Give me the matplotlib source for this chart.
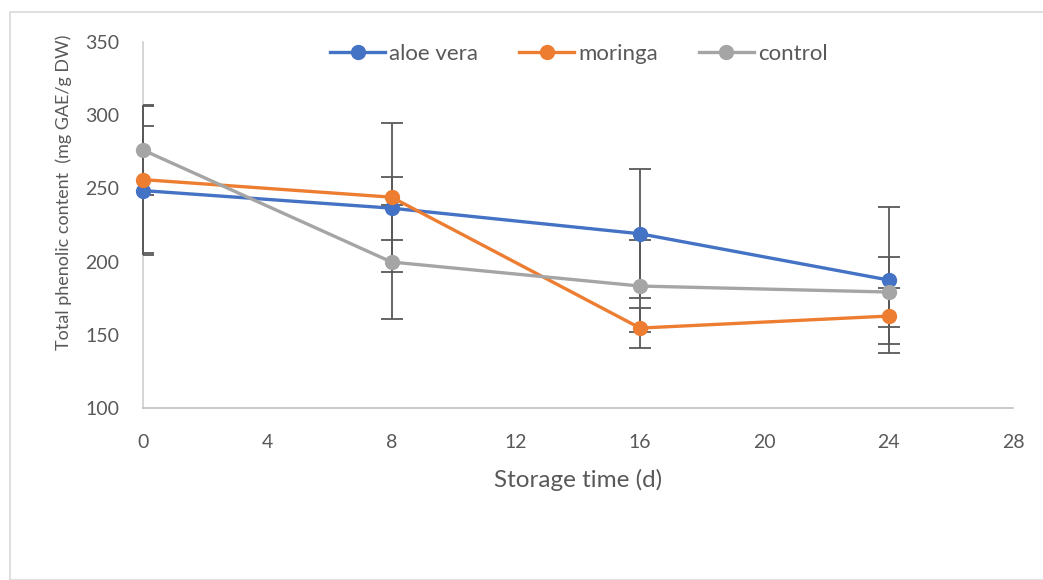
import matplotlib
matplotlib.use("Agg")
import matplotlib.pyplot as plt
from matplotlib.patches import Rectangle

# Storage days and total phenolic content per coating treatment
days = [0, 8, 16, 24]
aloe_vera = [248.5, 236.5, 219.0, 187.4]
moringa = [256.0, 244.0, 154.6, 162.8]
control = [276.2, 199.7, 183.3, 179.2]

# Symmetric error bar half-widths
aloe_vera_err = [44.0, 21.5, 44.0, 49.7]
moringa_err = [50.0, 51.0, 13.5, 19.3]
control_err = [31.0, 39.0, 31.5, 23.7]

x_ticks = [0, 4, 8, 12, 16, 20, 24, 28]
y_ticks = [100, 150, 200, 250, 300, 350]

series = [
    ("aloe vera", aloe_vera, aloe_vera_err, "#4472C4"),
    ("moringa", moringa, moringa_err, "#ED7D31"),
    ("control", control, control_err, "#A5A5A5"),
]

plt.rcParams["font.family"] = ["Lato", "DejaVu Sans"]
text_color = "#595959"

W, H = 1043, 580
fig = plt.figure(figsize=(W / 100, H / 100), dpi=100)

# Outer chart frame
fig.patches.append(Rectangle((9.5 / W, 0), 1.2, 1 - 11.5 / H, transform=fig.transFigure,
                             fill=False, edgecolor="#d9d9d9", linewidth=1.2))

ax = fig.add_axes([143 / W, 1 - 408 / H, (1013 - 143) / W, (408 - 42) / H])

for name, vals, err, col in series:
    eb = ax.errorbar(days, vals, yerr=err, fmt="none", ecolor="#595959", elinewidth=1.3,
                     capsize=8, capthick=1.3, zorder=2.6)
    # keep the vertical bars whole at the axis edge; caps stay clipped
    for coll in eb[2]:
        coll.set_clip_on(False)

for name, vals, err, col in series:
    ax.plot(days, vals, color=col, linewidth=2.4, marker="o", markersize=10,
            label=name, zorder=3, clip_on=False)

ax.set_xlim(0, 28)
ax.set_ylim(100, 350)
ax.set_xticks(x_ticks)
ax.set_yticks(y_ticks)
ax.tick_params(axis="both", length=0, labelsize=14, labelcolor=text_color)
ax.tick_params(axis="x", pad=19)
ax.tick_params(axis="y", pad=17)

for s in ("top", "right"):
    ax.spines[s].set_visible(False)
ax.spines["left"].set_color("#d0d0d0")
ax.spines["bottom"].set_color("#c0c0c0")
ax.spines["left"].set_linewidth(1.2)
ax.spines["bottom"].set_linewidth(1.2)

ax.set_xlabel("Storage time (d)", fontsize=17.5, color=text_color)
ax.xaxis.label.set_va("center")
ax.xaxis.set_label_coords(0.5, (408 - 480) / (408 - 42))

ax.set_ylabel("Total phenolic content  (mg GAE/g DW)", fontsize=13, color=text_color)
ax.yaxis.label.set_va("center")
ax.yaxis.set_label_coords((64 - 143) / (1013 - 143), (408 - 192) / (408 - 42))

ax.legend(loc="center", bbox_to_anchor=((579 - 143) / (1013 - 143), (408 - 54) / (408 - 42)),
          ncol=3, frameon=False, fontsize=16, handlelength=2.45, handletextpad=0.2,
          columnspacing=1.85, labelcolor=text_color)

fig.savefig("out.png", dpi=100)
